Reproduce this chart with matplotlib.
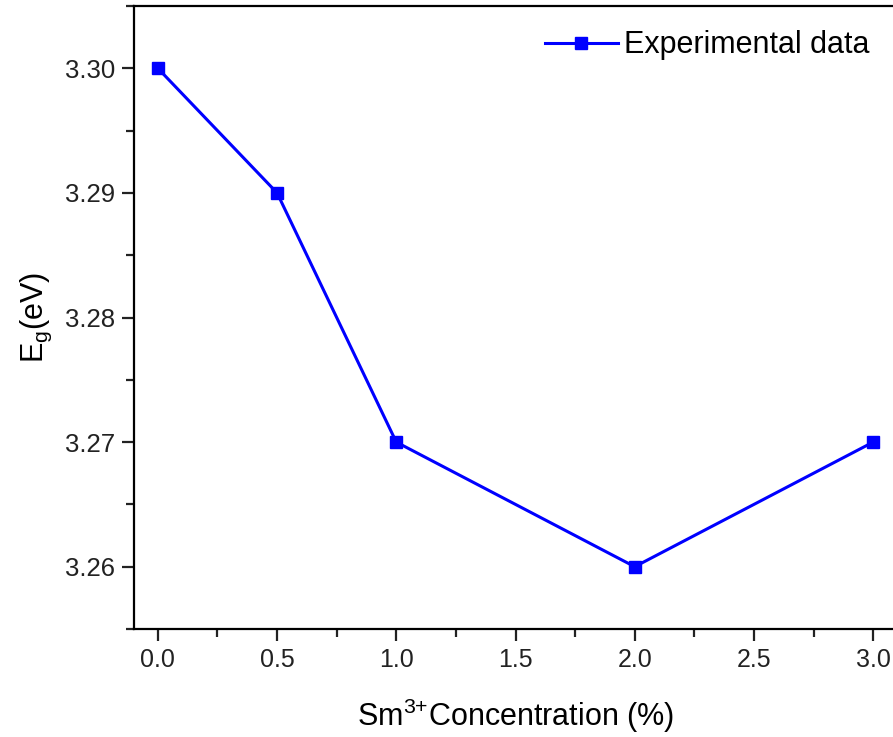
import matplotlib
matplotlib.use("Agg")
import matplotlib.pyplot as plt
from matplotlib.ticker import MultipleLocator

plt.rcParams['font.family'] = ['Liberation Sans', 'DejaVu Sans']
plt.rcParams['mathtext.default'] = 'regular'

# Sm3+ concentration (%) vs band gap (eV)
concentration = [0.0, 0.5, 1.0, 2.0, 3.0]
band_gap = [3.30, 3.29, 3.27, 3.26, 3.27]

fig = plt.figure(figsize=(8.93, 7.37), dpi=100)
ax = fig.add_axes([134 / 893, 108 / 737, 763 / 893, 623 / 737])

ax.plot(concentration, band_gap, color="#0000ff", linewidth=2.2,
        marker="s", markersize=9, label="Experimental data")

ax.set_xlim(-0.1, 3.1)
ax.set_ylim(3.255, 3.305)
ax.xaxis.set_major_locator(MultipleLocator(0.5))
ax.xaxis.set_minor_locator(MultipleLocator(0.25))
ax.yaxis.set_major_locator(MultipleLocator(0.01))
ax.yaxis.set_minor_locator(MultipleLocator(0.005))
ax.xaxis.set_major_formatter(plt.FormatStrFormatter("%.1f"))
ax.yaxis.set_major_formatter(plt.FormatStrFormatter("%.2f"))

for s in ax.spines.values():
    s.set_linewidth(1.6)
ax.tick_params(which="both", direction="out", width=1.6,
               colors="#222222", top=False, right=False)
ax.tick_params(which="major", length=8.5, pad=5)
ax.tick_params(which="minor", length=5.5)
ax.tick_params(axis="y", labelsize=18.5)
ax.tick_params(axis="x", labelsize=18)

ax.set_xlabel("Sm$^{3{+}}$Concentration (%)", fontsize=22, labelpad=18)
ax.set_ylabel("E$_{g}$(eV)", fontsize=22, labelpad=8)

ax.legend(loc="upper right", bbox_to_anchor=(1.0, 1.005), frameon=False,
          fontsize=22, handlelength=2.4, handletextpad=0.2)

fig.savefig("out.png", dpi=100)
